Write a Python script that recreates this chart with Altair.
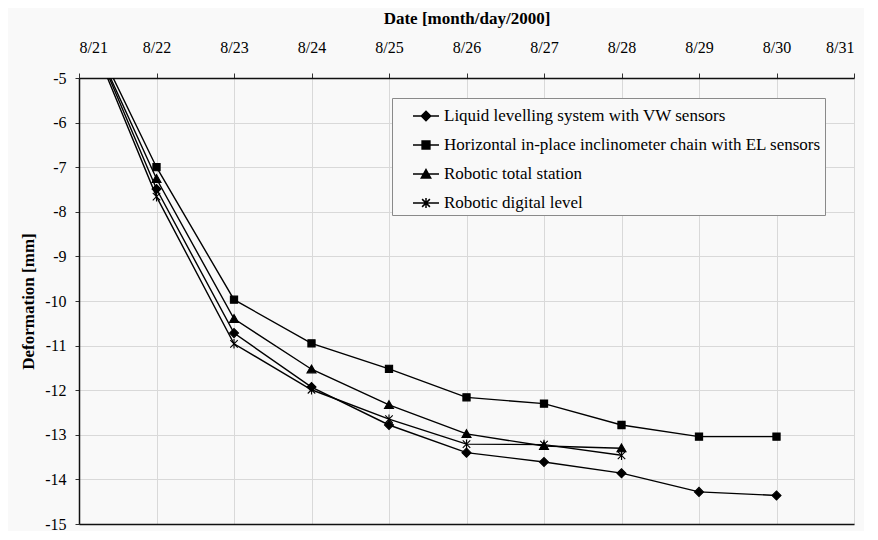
import altair as alt
import pandas as pd

# ---------------- data ----------------
dates = ["2000-08-21", "2000-08-22", "2000-08-23", "2000-08-24", "2000-08-25",
         "2000-08-26", "2000-08-27", "2000-08-28", "2000-08-29", "2000-08-30"]

series_names = [
    "Liquid levelling system with VW sensors",
    "Horizontal in-place inclinometer chain with EL sensors",
    "Robotic total station",
    "Robotic digital level",
]

liquid_levelling = [-3.40, -7.49, -10.72, -11.93, -12.78, -13.40, -13.61, -13.86, -14.28, -14.36]
inclinometer     = [-3.42, -7.00, -9.97, -10.95, -11.52, -12.16, -12.30, -12.78, -13.04, -13.04]
total_station    = [-3.45, -7.26, -10.40, -11.53, -12.33, -12.98, -13.25, -13.30]
digital_level    = [-3.45, -7.66, -10.96, -11.99, -12.65, -13.21, -13.22, -13.46]

y_ticks = [-15, -14, -13, -12, -11, -10, -9, -8, -7, -6, -5]
x_tick_days = [21, 22, 23, 24, 25, 26, 27, 28, 29, 30, 31]

rows = []
for name, vals in zip(series_names, [liquid_levelling, inclinometer, total_station, digital_level]):
    for d, v in zip(dates, vals):
        rows.append({"date": d, "value": v, "series": name})
df = pd.DataFrame(rows)

# ---------------- styling ----------------
FONT = "Liberation Serif"
BG = "#f9f9f9"

# marker shapes on the plot (unit square paths)
point_paths = [
    "M-0.9,0L0,-0.9L0.9,0L0,0.9Z",
    "M-0.72,-0.72H0.72V0.72H-0.72Z",
    "M0,-0.85L0.9,0.72H-0.9Z",
    "M-0.75,-0.75L0.75,0.75M-0.75,0.75L0.75,-0.75M0,-0.95V0.95",
]
# legend symbols: line with marker in the middle
legend_paths = [
    "M-1,0H1M-0.36,0L0,-0.36L0.36,0L0,0.36Z",
    "M-1,0H1M-0.3,-0.3H0.3V0.3H-0.3Z",
    "M-1,0H1M0,-0.34L0.36,0.3H-0.36Z",
    "M-1,0H1M-0.3,-0.3L0.3,0.3M-0.3,0.3L0.3,-0.3M0,-0.38V0.38",
]

PLOT_W = 775
PLOT_H = 446

x_scale = alt.Scale(
    type="utc",
    domain=[alt.DateTime(year=2000, month=8, date=21, utc=True),
            alt.DateTime(year=2000, month=8, date=31, utc=True)],
)
tick_dates = [alt.DateTime(year=2000, month=8, date=d, utc=True) for d in x_tick_days]

y_enc = alt.Y(
    "value:Q",
    scale=alt.Scale(domain=[-15, -5], nice=False, zero=False),
    axis=alt.Axis(
        values=y_ticks,
        labelExpr="'' + datum.value",
        title="Deformation [mm]",
        titleX=-51,
        titleY=PLOT_H / 2,
        titleAngle=-90,
        titleBaseline="middle",
        tickSize=4,
        labelPadding=9,
    ),
)

base = alt.Chart(df)

lines = base.mark_line(color="black", strokeWidth=1.4, clip=True).encode(
    x=alt.X(
        "date:T",
        scale=x_scale,
        axis=alt.Axis(
            orient="top",
            values=tick_dates,
            labelExpr="utcFormat(datum.value, '%-m/%-d')",
            title="Date [month/day/2000]",
            titleY=-60,
            titleBaseline="middle",
            tickSize=5,
            labelPadding=18,
        ),
    ),
    y=y_enc,
    detail="series:N",
    order="date:T",
)

points = base.mark_point(
    filled=True, fill="black", stroke="black", strokeWidth=1.1, size=100, opacity=1, clip=True
).encode(
    x=alt.X(
        "date:T",
        scale=x_scale,
        axis=alt.Axis(orient="bottom", labels=False, ticks=False, grid=False, title=None),
    ),
    y=y_enc,
    shape=alt.Shape("series:N", scale=alt.Scale(domain=series_names, range=point_paths), legend=None),
)

legend_layer = base.transform_filter("false").mark_point(
    filled=True, fill="black", stroke="black", strokeWidth=1.3, opacity=1
).encode(
    shape=alt.Shape(
        "series:N",
        scale=alt.Scale(domain=series_names, range=legend_paths),
        legend=alt.Legend(
            title=None,
            orient="none",
            legendX=313,
            legendY=20,
            padding=4,
            symbolSize=676,
            symbolOffset=16,
            labelOffset=4,
            labelFont=FONT,
            labelFontSize=17,
            labelColor="black",
            labelLimit=600,
            rowPadding=7,
            strokeColor="#8a8a8a",
            fillColor=BG,
        ),
    ),
)

chart = (
    alt.layer(lines, points, legend_layer)
    .resolve_scale(shape="independent")
    .resolve_axis(x="independent")
    .properties(
        width=PLOT_W,
        height=PLOT_H,
        autosize=alt.AutoSizeParams(type="none"),
        padding={"left": 71, "top": 70, "right": 10, "bottom": 7},
        background=BG,
    )
    .configure_view(stroke="transparent")
    .configure_axis(
        labelFont=FONT,
        labelFontSize=16,
        labelColor="black",
        titleFont=FONT,
        titleFontSize=17,
        titleFontWeight="bold",
        titleColor="black",
        gridColor="#d9d9d9",
        gridWidth=1,
        domainColor="#111111",
        domainWidth=1.5,
        tickColor="#333333",
        tickWidth=1,
    )
)

chart.save("out.html", embed_options={"renderer": "svg", "actions": False})
